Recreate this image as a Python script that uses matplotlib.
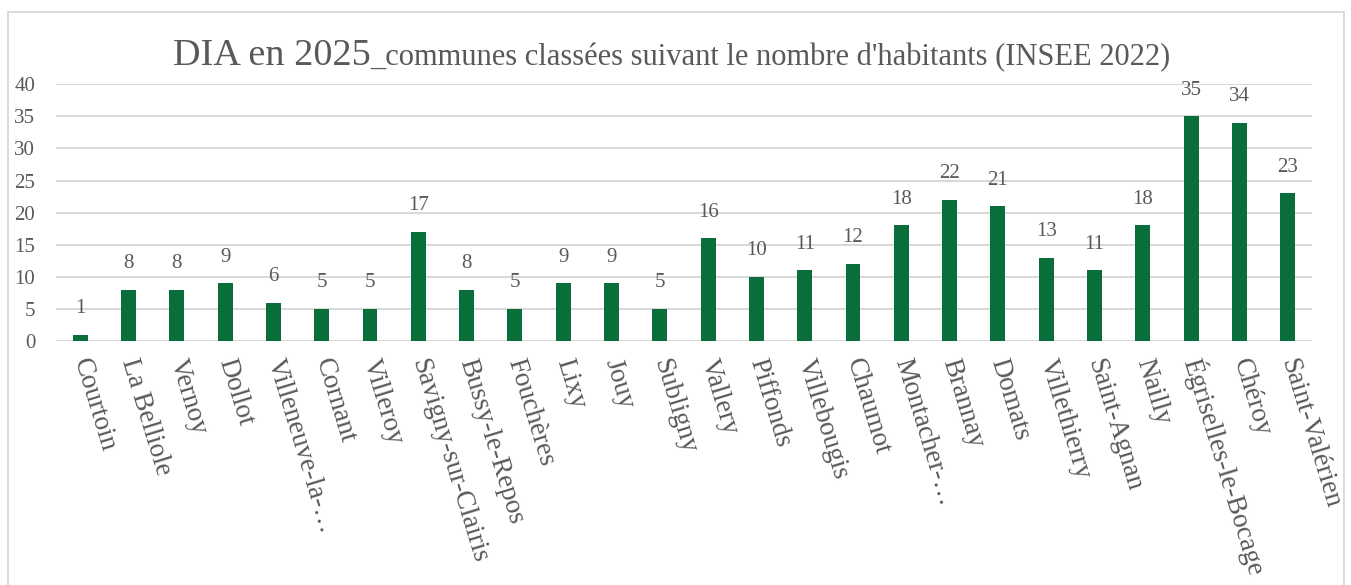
import matplotlib
matplotlib.use('Agg')
import numpy as np
from matplotlib import pyplot as plt
from matplotlib.patches import Rectangle

communes = ['Courtoin', 'La Belliole', 'Vernoy', 'Dollot', 'Villeneuve-la-…',
            'Cornant', 'Villeroy', 'Savigny-sur-Clairis', 'Bussy-le-Repos',
            'Fouchères', 'Lixy', 'Jouy', 'Subligny', 'Vallery', 'Piffonds',
            'Villebougis', 'Chaumot', 'Montacher-…', 'Brannay', 'Domats',
            'Villethierry', 'Saint-Agnan', 'Nailly', 'Égriselles-le-Bocage',
            'Chéroy', 'Saint-Valérien']
dia = [1, 8, 8, 9, 6, 5, 5, 17, 8, 5, 9, 9, 5, 16, 10, 11, 12, 18, 22, 21,
       13, 11, 18, 35, 34, 23]
y_ticks = [0, 5, 10, 15, 20, 25, 30, 35, 40]

plt.rcParams['font.family'] = ['Liberation Serif', 'DejaVu Serif']
txt = '#595959'
green = '#0A6E3A'
grid = '#D9D9D9'

fig = plt.figure(figsize=(13.51, 5.85), dpi=100)
ax = fig.add_axes([0.0415, 0.417, 0.9295, 0.439])

# cadre du graphique
fig.patches.append(Rectangle((8 / 1351, -0.05), 1336 / 1351, 1 - 12 / 585 + 0.05,
                             transform=fig.transFigure, fill=False,
                             edgecolor=grid, linewidth=1.3, clip_on=False))

x = np.arange(len(communes))
bars = ax.bar(x, dia, width=0.31, color=green, zorder=3)
for xi, v in zip(x, dia):
    ax.annotate(str(v), (xi, v), xytext=(0, 12), textcoords='offset points',
                ha='center', va='bottom', fontsize=15, color=txt)

ax.set_xlim(-0.5, len(communes) - 0.5)
ax.set_ylim(0, 40)
ax.set_yticks(y_ticks)
ax.tick_params(axis='y', length=0, pad=15, labelsize=15, labelcolor=txt)
ax.tick_params(axis='x', length=0, pad=13)
ax.set_xticks(x)
ax.set_xticklabels(communes, rotation=-73, ha='left', va='center',
                   rotation_mode='anchor', fontsize=19.5, color=txt)
ax.yaxis.grid(True, color=grid, linewidth=1.5, zorder=0)
for s in ax.spines.values():
    s.set_visible(False)

# titre en deux tailles
t1 = fig.text(0, 1 - 65 / 585, 'DIA en 2025', fontsize=27.5, color=txt, va='baseline')
t2 = fig.text(0, 1 - 65 / 585, "_communes classées suivant le nombre d'habitants (INSEE 2022)",
              fontsize=22, color=txt, va='baseline')
fig.canvas.draw()
r = fig.canvas.get_renderer()
w1 = t1.get_window_extent(r).width
w2 = t2.get_window_extent(r).width
x0 = (672 - (w1 + w2) / 2) / 1351
t1.set_x(x0)
t2.set_x(x0 + w1 / 1351)

fig.savefig('out.png', dpi=100)
